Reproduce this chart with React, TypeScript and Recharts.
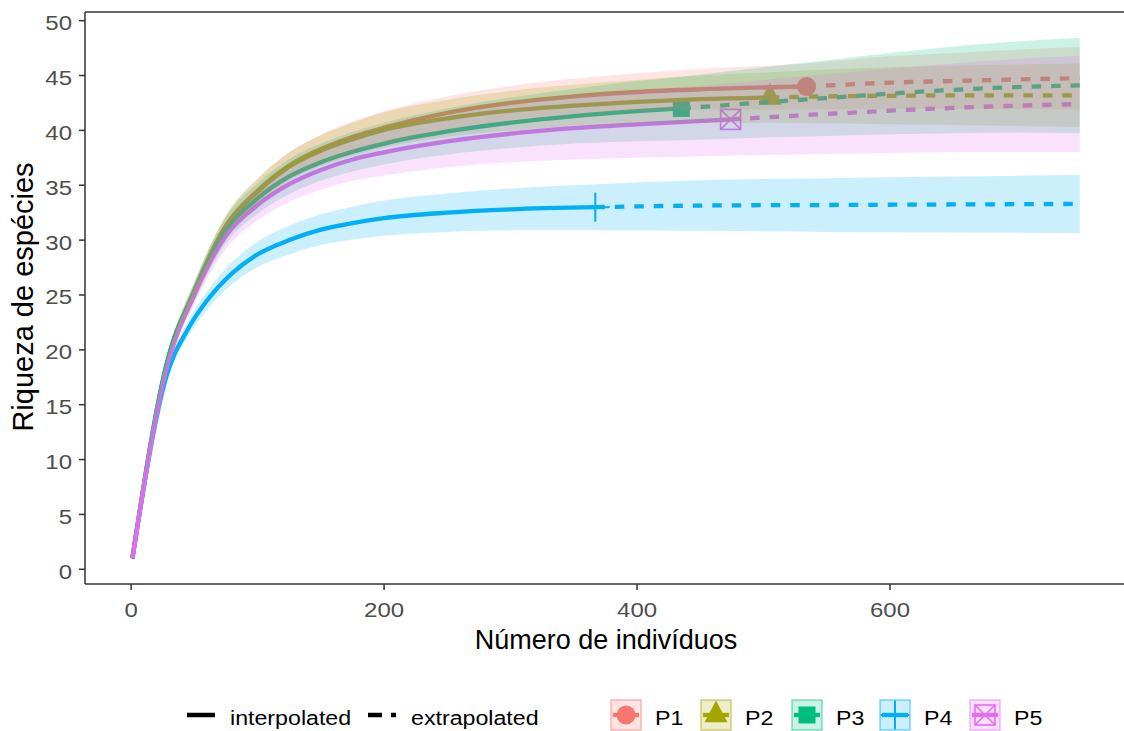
import React from 'react';
import { ComposedChart, Line, Area, Scatter, XAxis, YAxis, ReferenceLine } from 'recharts';

// ---------- data ----------
const SITE_NAMES = ['P1', 'P2', 'P3', 'P4', 'P5'];
const COLORS = ['#F8766D', '#A3A500', '#00BF7D', '#00B0F6', '#E76BF3'];
const SHAPES = ['circle', 'triangle', 'square', 'plus', 'boxx'];
const OBS_N = [534, 505, 435, 367, 474];

const P1_x = [1, 28, 50, 75, 100, 125, 150, 175, 200, 250, 300, 350, 400, 450, 534, 600, 650, 700, 750];
const P1_y = [1, 18.5, 25.3, 31.3, 34.5, 36.8, 38.3, 39.4, 40.25, 41.6, 42.5, 43.1, 43.5, 43.75, 44.0, 44.35, 44.5, 44.65, 44.75];
const P1_lo = [1, 18.1, 24.6, 30.4, 33.4, 35.6, 37.0, 38.0, 38.75, 40.1, 40.95, 41.5, 41.8, 41.9, 41.9, 41.95, 41.95, 41.95, 41.9];
const P1_hi = [1, 18.9, 26.0, 32.2, 35.6, 38.0, 39.6, 40.8, 41.75, 43.1, 44.05, 44.7, 45.2, 45.6, 46.1, 46.75, 47.05, 47.35, 47.6];

const P2_x = [1, 28, 50, 75, 100, 125, 150, 175, 200, 250, 300, 350, 400, 450, 505, 550, 600, 650, 700, 750];
const P2_y = [1, 18.6, 25.4, 31.3, 34.4, 36.7, 38.15, 39.2, 40.05, 41.1, 41.8, 42.25, 42.6, 42.85, 43.0, 43.1, 43.15, 43.2, 43.2, 43.2];
const P2_lo = [1, 18.2, 24.6, 30.3, 33.2, 35.4, 36.75, 37.7, 38.45, 39.4, 40.0, 40.35, 40.6, 40.7, 40.7, 40.65, 40.55, 40.5, 40.4, 40.3];
const P2_hi = [1, 19.0, 26.2, 32.3, 35.6, 38.0, 39.55, 40.7, 41.65, 42.8, 43.6, 44.15, 44.6, 45.0, 45.3, 45.55, 45.75, 45.9, 46.0, 46.1];

const P3_x = [1, 28, 50, 75, 100, 125, 150, 175, 200, 250, 300, 350, 400, 435, 500, 550, 600, 650, 700, 750];
const P3_y = [1, 18.7, 25.3, 30.9, 33.8, 35.8, 37.1, 38.05, 38.8, 39.9, 40.7, 41.3, 41.75, 42.0, 42.55, 42.95, 43.35, 43.7, 43.95, 44.1];
const P3_lo = [1, 18.2, 24.4, 29.7, 32.4, 34.2, 35.4, 36.25, 36.9, 37.8, 38.4, 38.8, 39.0, 39.1, 39.35, 39.5, 39.65, 39.75, 39.8, 39.75];
const P3_hi = [1, 19.2, 26.2, 32.1, 35.2, 37.4, 38.8, 39.85, 40.7, 42.0, 43.0, 43.8, 44.5, 44.9, 45.75, 46.4, 47.05, 47.65, 48.1, 48.45];

const P4_x = [1, 28, 45, 60, 80, 100, 125, 150, 175, 200, 250, 300, 367, 450, 550, 650, 750];
const P4_y = [1, 17.6, 21.9, 24.5, 27.0, 28.7, 30.0, 30.95, 31.55, 32.0, 32.5, 32.8, 33.0, 33.15, 33.2, 33.25, 33.3];
const P4_lo = [1, 17.1, 21.2, 23.65, 26.0, 27.55, 28.7, 29.55, 30.05, 30.4, 30.75, 30.9, 30.9, 30.85, 30.75, 30.7, 30.65];
const P4_hi = [1, 18.1, 22.6, 25.35, 28.0, 29.85, 31.3, 32.35, 33.05, 33.6, 34.25, 34.7, 35.1, 35.45, 35.65, 35.8, 35.95];

const P5_x = [1, 28, 50, 75, 100, 125, 150, 175, 200, 250, 300, 350, 400, 474, 550, 600, 650, 700, 750];
const P5_y = [1, 18.3, 25.0, 30.4, 33.2, 35.1, 36.4, 37.35, 38.0, 39.0, 39.7, 40.2, 40.55, 41.0, 41.5, 41.8, 42.05, 42.25, 42.4];
const P5_lo = [1, 17.8, 24.1, 29.2, 31.8, 33.5, 34.6, 35.4, 35.9, 36.65, 37.1, 37.35, 37.5, 37.7, 37.85, 37.95, 38.0, 38.0, 38.0];
const P5_hi = [1, 18.8, 25.9, 31.6, 34.6, 36.7, 38.2, 39.3, 40.1, 41.35, 42.3, 43.05, 43.6, 44.3, 45.15, 45.65, 46.1, 46.5, 46.8];

const X_TICKS = [0, 200, 400, 600];
const Y_TICKS = [0, 5, 10, 15, 20, 25, 30, 35, 40, 45, 50];
const X_TITLE = 'Número de indivíduos';
const Y_TITLE = 'Riqueza de espécies';
const LEGEND_TYPES = ['interpolated', 'extrapolated'];

// ---------- build tables ----------
const RAW = [
  [P1_x, P1_y, P1_lo, P1_hi],
  [P2_x, P2_y, P2_lo, P2_hi],
  [P3_x, P3_y, P3_lo, P3_hi],
  [P4_x, P4_y, P4_lo, P4_hi],
  [P5_x, P5_y, P5_lo, P5_hi],
];

const SITES = RAW.map(([xs, ys, lo, hi], i) => {
  const rows = xs.map((x, k) => ({ x, y: ys[k], band: [lo[k], hi[k]] }));
  const n = OBS_N[i];
  return {
    name: SITE_NAMES[i],
    color: COLORS[i],
    shape: SHAPES[i],
    rows,
    interp: rows.filter((r) => r.x <= n),
    extrap: rows.filter((r) => r.x >= n),
    obs: rows.filter((r) => r.x === n),
  };
});

const FONT = '"Liberation Sans", Arial, sans-serif';
const AXIS_COL = '#333333';
const TICK_COL = '#4d4d4d';
const SX = 1.17; // horizontal stretch of the reference's text

function drawShape(kind: string, color: string, cx: number, cy: number, key?: string) {
  switch (kind) {
    case 'circle':
      return <circle key={key} cx={cx} cy={cy} r={9.5} fill={color} />;
    case 'triangle':
      return (
        <polygon
          key={key}
          points={`${cx},${cy - 14.5} ${cx + 11.5},${cy + 7.3} ${cx - 11.5},${cy + 7.3}`}
          fill={color}
        />
      );
    case 'square':
      return <rect key={key} x={cx - 8.5} y={cy - 8.5} width={17} height={17} fill={color} />;
    case 'plus':
      return (
        <g key={key} stroke={color} strokeWidth={2}>
          <line x1={cx - 14.5} x2={cx + 14.5} y1={cy} y2={cy} />
          <line x1={cx} x2={cx} y1={cy - 14.5} y2={cy + 14.5} />
        </g>
      );
    default:
      return (
        <g key={key} stroke={color} strokeWidth={1.6} fill="none">
          <rect x={cx - 10} y={cy - 10} width={20} height={20} />
          <line x1={cx - 10} y1={cy - 10} x2={cx + 10} y2={cy + 10} />
          <line x1={cx - 10} y1={cy + 10} x2={cx + 10} y2={cy - 10} />
        </g>
      );
  }
}

const XTick = (props: any) => {
  const { x, y, payload } = props;
  return (
    <text
      transform={`translate(${x},${y + 27}) scale(${SX},1)`}
      textAnchor="middle"
      fill={TICK_COL}
      fontSize={20.5}
      fontFamily={FONT}
    >
      {payload.value}
    </text>
  );
};

const YTick = (props: any) => {
  const { x, y, payload } = props;
  return (
    <text
      transform={`translate(${x - 7},${y + 9.5}) scale(${SX},1)`}
      textAnchor="end"
      fill={TICK_COL}
      fontSize={20.5}
      fontFamily={FONT}
    >
      {payload.value}
    </text>
  );
};

const KEY_X = [611, 701, 792, 880, 970];

function LegendText({ x, y, children }: any) {
  return (
    <text transform={`translate(${x},${y}) scale(1.16,1)`} fontSize={20} fontFamily={FONT} fill="#000">
      {children}
    </text>
  );
}

function Overlay() {
  return (
    <svg
      width={1124}
      height={731}
      style={{ position: 'absolute', left: 0, top: 0, pointerEvents: 'none' }}
    >
      <text x={606} y={649} textAnchor="middle" fontSize={27} fontFamily={FONT} fill="#000">
        {X_TITLE}
      </text>
      <text
        transform="translate(33,297) rotate(-90)"
        textAnchor="middle"
        fontSize={29}
        fontFamily={FONT}
        fill="#000"
      >
        {Y_TITLE}
      </text>
      {/* linetype legend */}
      <line x1={187} x2={215} y1={715} y2={715} stroke="#000" strokeWidth={4.5} />
      <LegendText x={230} y={725}>{LEGEND_TYPES[0]}</LegendText>
      <line x1={368} x2={396} y1={715} y2={715} stroke="#000" strokeWidth={4.5} strokeDasharray="14 9" />
      <LegendText x={411} y={725}>{LEGEND_TYPES[1]}</LegendText>
      {/* site legend */}
      {SITES.map((s, i) => {
        const x0 = KEY_X[i];
        return (
          <g key={s.name}>
            <line x1={x0 + 2} x2={x0 + 28} y1={715} y2={715} stroke={s.color} strokeWidth={4.3} />
            {drawShape(s.shape, s.color, x0 + 15, 715)}
            <rect
              x={x0}
              y={700}
              width={30}
              height={30}
              fill={s.color}
              fillOpacity={0.2}
              stroke={s.color}
              strokeOpacity={0.5}
              strokeWidth={1.5}
            />
            <LegendText x={x0 + 44} y={725}>{s.name}</LegendText>
          </g>
        );
      })}
    </svg>
  );
}

export default function App() {
  return (
    <div style={{ position: 'absolute', left: 0, top: 0, width: 1124, height: 731, background: '#fff' }}>
      <ComposedChart width={1124} height={731} margin={{ top: 12, right: 0, left: 25, bottom: 117 }}>
        <XAxis
          type="number"
          dataKey="x"
          domain={[-36.45, 785]}
          ticks={X_TICKS}
          allowDataOverflow
          height={30}
          tickSize={6}
          tickMargin={0}
          tick={<XTick />}
          tickLine={{ stroke: AXIS_COL, strokeWidth: 1.5 }}
          axisLine={{ stroke: AXIS_COL, strokeWidth: 1.5 }}
        />
        <YAxis
          type="number"
          domain={[-1.34, 50.79]}
          ticks={Y_TICKS}
          allowDataOverflow
          width={60}
          tickSize={6}
          tickMargin={0}
          tick={<YTick />}
          tickLine={{ stroke: AXIS_COL, strokeWidth: 1.5 }}
          axisLine={{ stroke: AXIS_COL, strokeWidth: 1.5 }}
        />
        <ReferenceLine y={50.79} stroke={AXIS_COL} strokeWidth={1.5} />
        {SITES.map((s) => (
          <Scatter
            key={'pt' + s.name}
            data={s.obs}
            dataKey="y"
            isAnimationActive={false}
            zIndex={300}
            shape={(p: any) => drawShape(s.shape, s.color, p.cx, p.cy)}
          />
        ))}
        {SITES.map((s) => (
          <Line
            key={'li' + s.name}
            data={s.interp}
            dataKey="y"
            type="monotone"
            stroke={s.color}
            strokeWidth={4.3}
            dot={false}
            activeDot={false}
            isAnimationActive={false}
            zIndex={400}
          />
        ))}
        {SITES.map((s) => (
          <Line
            key={'le' + s.name}
            data={s.extrap}
            dataKey="y"
            type="monotone"
            stroke={s.color}
            strokeWidth={4.3}
            strokeDasharray="9.5 10"
            dot={false}
            activeDot={false}
            isAnimationActive={false}
            zIndex={400}
          />
        ))}
        {SITES.map((s) => (
          <Area
            key={'ar' + s.name}
            data={s.rows}
            dataKey="band"
            type="monotone"
            fill={s.color}
            fillOpacity={0.2}
            stroke="none"
            activeDot={false}
            isAnimationActive={false}
            zIndex={500}
          />
        ))}
      </ComposedChart>
      <Overlay />
    </div>
  );
}
